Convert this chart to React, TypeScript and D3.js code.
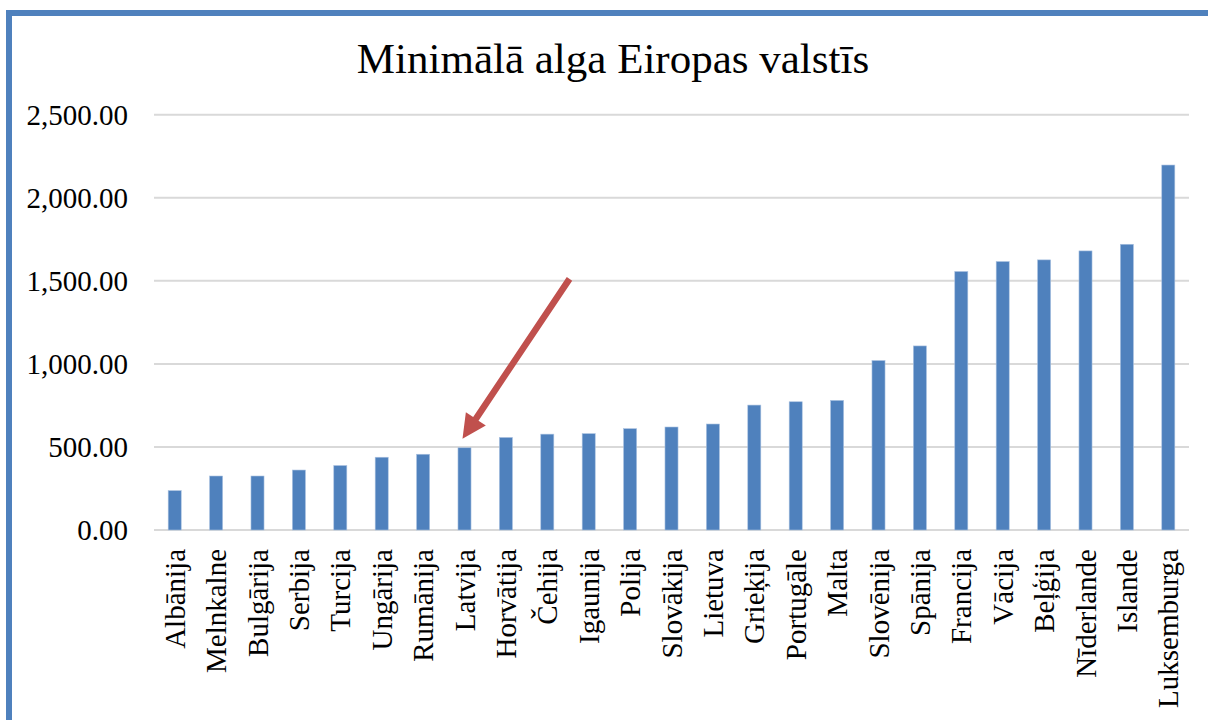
import React from "react";
import * as d3 from "d3";

const categories = [
  "Albānija", "Melnkalne", "Bulgārija", "Serbija", "Turcija", "Ungārija", "Rumānija",
  "Latvija", "Horvātija", "Čehija", "Igaunija", "Polija", "Slovākija", "Lietuva",
  "Grieķija", "Portugāle", "Malta", "Slovēnija", "Spānija", "Francija", "Vācija",
  "Beļģija", "Nīderlande", "Islande", "Luksemburga",
];
const values = [
  237, 325, 325, 361, 388, 438, 456,
  495, 557, 577, 580, 610, 620, 638,
  752, 772, 780, 1020, 1108, 1556, 1616,
  1626, 1680, 1720, 2197,
];
const yTicks = [0, 500, 1000, 1500, 2000, 2500];
const title = "Minimālā alga Eiropas valstīs";
const highlighted = "Latvija";
const arrowFromValue = 1500;

const W = 1208;
const H = 720;
const FONT = "'Liberation Serif', 'Times New Roman', serif";
const BLUE = "#4F81BD";
const RED = "#C0504D";
const GRID = "#D9D9D9";

export default function App() {
  const x = d3.scaleBand<string>().domain(categories).range([154, 1189]).paddingInner(0.685).paddingOuter(0.3425);
  const y = d3.scaleLinear().domain([0, 2500]).range([530, 114.7]);
  const fmt = d3.format(",.2f");

  // Arrow pointing to highlighted bar
  const hi = categories.indexOf(highlighted);
  const xc = (x(highlighted) as number) + x.bandwidth() / 2;
  const tip: [number, number] = [xc - 2, y(values[hi]) - 9];
  const start: [number, number] = [xc + 105, y(arrowFromValue) - 2];
  const dx = start[0] - tip[0];
  const dy = start[1] - tip[1];
  const len = Math.hypot(dx, dy);
  const ux = dx / len, uy = dy / len;
  const px = -uy, py = ux;
  const headLen = 24, headW = 24, shaftW = 6.5;
  const hb: [number, number] = [tip[0] + ux * headLen, tip[1] + uy * headLen];
  const pts: [number, number][] = [
    tip,
    [hb[0] + px * headW / 2, hb[1] + py * headW / 2],
    [hb[0] + px * shaftW / 2, hb[1] + py * shaftW / 2],
    [start[0] + px * shaftW / 2, start[1] + py * shaftW / 2],
    [start[0] - px * shaftW / 2, start[1] - py * shaftW / 2],
    [hb[0] - px * shaftW / 2, hb[1] - py * shaftW / 2],
    [hb[0] - px * headW / 2, hb[1] - py * headW / 2],
  ];

  return (
    <svg width={W} height={H} style={{ position: "absolute", left: 0, top: 0, background: "#fff" }}>
      <rect x={0} y={0} width={W} height={H} fill="#fff" />
      {/* frame */}
      <rect x={6} y={10} width={W - 6} height={6} fill={BLUE} />
      <rect x={6} y={10} width={6} height={H - 10} fill={BLUE} />

      <text x={613} y={73} textAnchor="middle" fontFamily={FONT} fontSize={43} fill="#000">
        {title}
      </text>

      {yTicks.map((t) => (
        <g key={t}>
          <line x1={154} x2={1189} y1={y(t)} y2={y(t)} stroke={GRID} strokeWidth={2} />
          <text x={128} y={y(t)} dy="0.35em" textAnchor="end" fontFamily={FONT} fontSize={29} fill="#000">
            {fmt(t)}
          </text>
        </g>
      ))}

      {categories.map((c, i) => (
        <rect
          key={c}
          x={x(c)}
          y={y(values[i])}
          width={x.bandwidth()}
          height={y(0) - y(values[i])}
          fill={BLUE}
          stroke="#A9C1E0"
          strokeWidth={0.6}
        />
      ))}

      {categories.map((c) => {
        const cx = (x(c) as number) + x.bandwidth() / 2;
        return (
          <text
            key={c}
            transform={`translate(${cx},549) rotate(-90)`}
            dy="0.35em"
            textAnchor="end"
            fontFamily={FONT}
            fontSize={29}
            fill="#000"
          >
            {c}
          </text>
        );
      })}

      <polygon points={pts.map((p) => p.join(",")).join(" ")} fill={RED} />
    </svg>
  );
}
